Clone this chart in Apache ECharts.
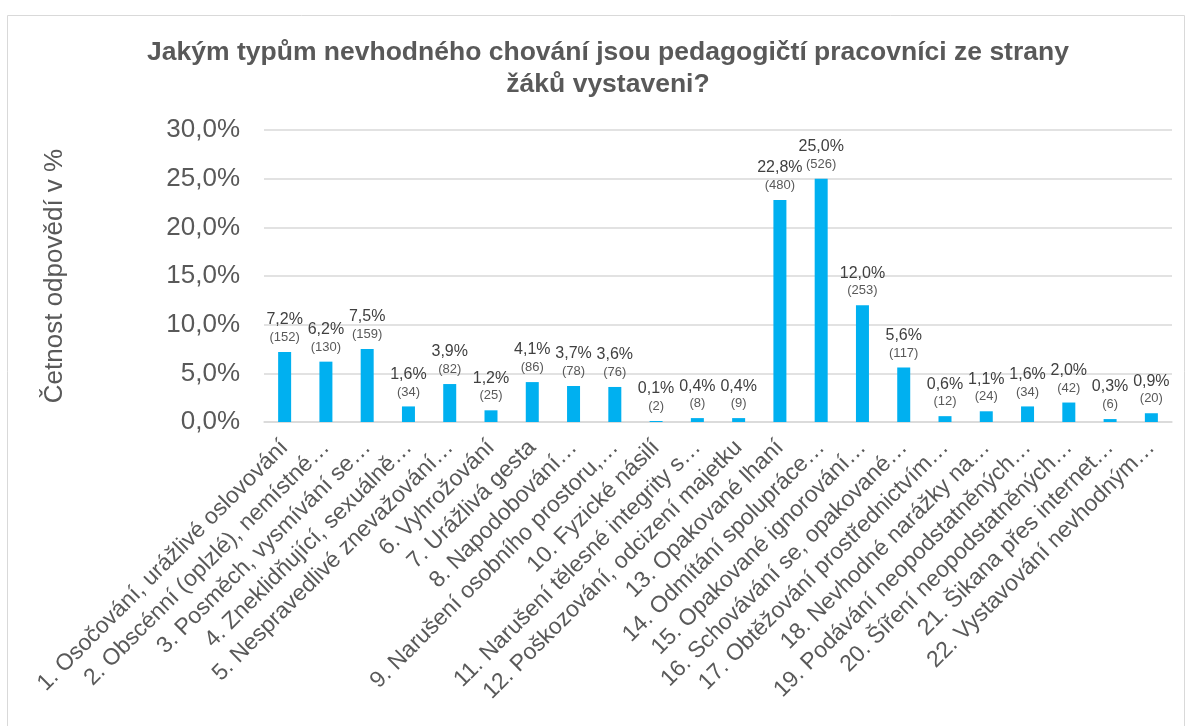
<!DOCTYPE html>
<html>
<head>
<meta charset="utf-8">
<script src="https://cdn.jsdelivr.net/npm/echarts@6/dist/echarts.min.js"></script>
<style>
html,body{margin:0;padding:0;background:#fff;}
#chart{width:1191px;height:726px;}
</style>
</head>
<body>
<div id="chart"></div>
<script>
const categories = [
  "1. Osočování, urážlivé oslovování",
  "2. Obscénní (oplzlé), nemístné…",
  "3. Posměch, vysmívání se…",
  "4. Zneklidňující, sexuálně…",
  "5. Nespravedlivé znevažování…",
  "6. Vyhrožování",
  "7. Urážlivá gesta",
  "8. Napodobování…",
  "9. Narušení osobního prostoru,…",
  "10. Fyzické násilí",
  "11. Narušení tělesné integrity s…",
  "12. Poškozování, odcizení majetku",
  "13. Opakované lhaní",
  "14. Odmítání spolupráce…",
  "15. Opakované ignorování…",
  "16. Schovávání se, opakované…",
  "17. Obtěžování prostřednictvím…",
  "18. Nevhodné narážky na…",
  "19. Podávání neopodstatněných…",
  "20. Šíření neopodstatněných…",
  "21. Šikana přes internet…",
  "22. Vystavování nevhodným…"
];
const percents = [7.2, 6.2, 7.5, 1.6, 3.9, 1.2, 4.1, 3.7, 3.6, 0.1, 0.4, 0.4, 22.8, 25.0, 12.0, 5.6, 0.6, 1.1, 1.6, 2.0, 0.3, 0.9];
const counts = [152, 130, 159, 34, 82, 25, 86, 78, 76, 2, 8, 9, 480, 526, 253, 117, 12, 24, 34, 42, 6, 20];
const titleText = "Jakým typům nevhodného chování jsou pedagogičtí pracovníci ze strany\nžáků vystaveni?";
const yAxisName = "Četnost odpovědí v %";

const fmt = v => v.toFixed(1).replace('.', ',') + '%';
const font = "'Liberation Sans', Arial, sans-serif";

const chart = echarts.init(document.getElementById('chart'));
chart.setOption({
  animation: false,
  textStyle: { fontFamily: font },
  graphic: [{
    type: 'rect',
    shape: { x: 7.5, y: 15.5, width: 1177, height: 730 },
    style: { fill: 'none', stroke: '#D9D9D9', lineWidth: 1 },
    z: -1
  }],
  title: {
    text: titleText,
    left: 603,
    textAlign: 'center',
    top: 32,
    textStyle: { fontFamily: font, fontSize: 26.5, fontWeight: 'bold', color: '#595959', lineHeight: 32 }
  },
  grid: { left: 264, right: 19, top: 130, bottom: 304, containLabel: false },
  xAxis: {
    type: 'category',
    data: categories,
    axisLine: { show: true, lineStyle: { color: '#D9D9D9', width: 1.5 } },
    axisTick: { show: false },
    axisLabel: {
      interval: 0,
      rotate: 45,
      fontSize: 23,
      color: '#595959',
      fontFamily: font,
      margin: 22
    }
  },
  yAxis: {
    type: 'value',
    min: 0,
    max: 30,
    interval: 5,
    name: yAxisName,
    nameLocation: 'middle',
    nameGap: 196,
    nameTextStyle: { fontSize: 26, color: '#595959', fontFamily: font },
    axisLine: { show: false },
    axisTick: { show: false },
    splitLine: { lineStyle: { color: '#D9D9D9', width: 1.5 } },
    axisLabel: {
      formatter: v => fmt(v),
      fontSize: 26,
      color: '#595959',
      fontFamily: font,
      margin: 24
    }
  },
  series: [{
    type: 'bar',
    data: percents,
    barWidth: 13,
    itemStyle: { color: '#00B0F0' },
    label: {
      show: true,
      position: 'top',
      distance: 6,
      formatter: p => '{p|' + fmt(p.value) + '}\n{c|(' + counts[p.dataIndex] + ')}',
      rich: {
        p: { fontSize: 16, color: '#404040', lineHeight: 18, fontFamily: font },
        c: { fontSize: 13, color: '#595959', lineHeight: 17, fontFamily: font }
      }
    }
  }]
});
</script>
</body>
</html>
